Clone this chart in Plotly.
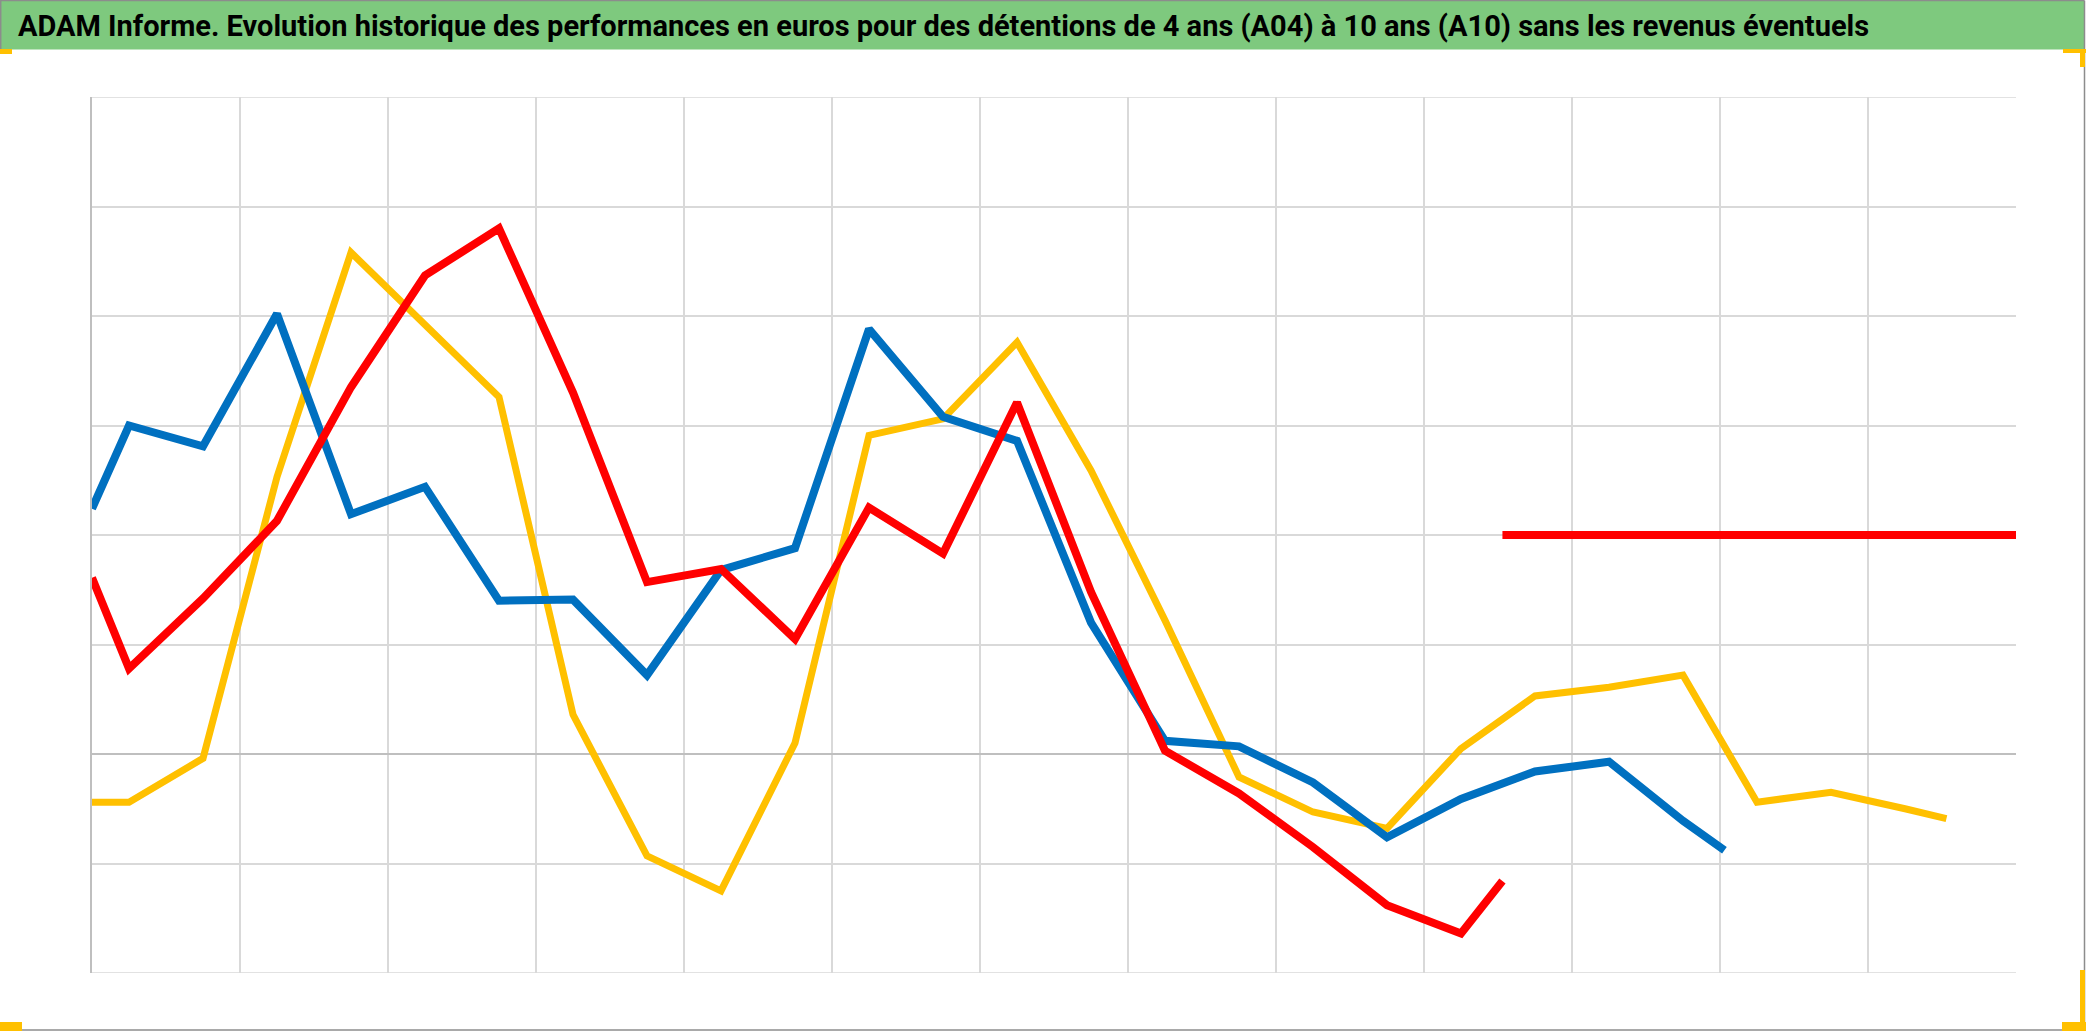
import plotly.graph_objects as go

# ---- data (x in grid units, y in arbitrary % units, 10 per gridline) ----
title_text = "ADAM Informe. Evolution historique des performances en euros pour des détentions de 4 ans (A04) à 10 ans (A10) sans les revenus éventuels"

blue_x = [0, 0.25, 0.75, 1.25, 1.75, 2.25, 2.75, 3.25, 3.75, 4.25, 4.75, 5.25, 5.75,
          6.25, 6.75, 7.25, 7.75, 8.25, 8.75, 9.25, 9.75, 10.25, 10.75, 11.03]
blue_y = [22.4, 30.0, 28.1, 40.2, 21.9, 24.4, 14.0, 14.1, 7.2, 16.8, 18.8, 38.8, 30.8,
          28.6, 12.0, 1.2, 0.7, -2.6, -7.6, -4.1, -1.6, -0.7, -6.1, -8.8]

yellow_x = [0, 0.25, 0.75, 1.25, 1.75, 2.25, 2.75, 3.25, 3.75, 4.25, 4.75, 5.25, 5.75,
            6.25, 6.75, 7.25, 7.75, 8.25, 8.75, 9.25, 9.75, 10.25, 10.75, 11.25, 11.75,
            12.25, 12.53]
yellow_y = [-4.4, -4.4, -0.4, 25.3, 45.8, 39.2, 32.6, 3.6, -9.3, -12.5, 1.0, 29.1, 30.6,
            37.6, 25.9, 12.2, -2.1, -5.3, -6.8, 0.5, 5.3, 6.1, 7.2, -4.4, -3.5,
            -5.0, -5.9]

red_x = [0, 0.25, 0.75, 1.25, 1.75, 2.25, 2.75, 3.25, 3.75, 4.25, 4.75, 5.25, 5.75,
         6.25, 6.75, 7.25, 7.75, 8.25, 8.75, 9.25, 9.53]
red_y = [16.1, 7.8, 14.2, 21.3, 33.5, 43.7, 48.0, 33.0, 15.7, 16.9, 10.5, 22.5, 18.3,
         32.1, 14.8, 0.3, -3.6, -8.5, -13.8, -16.4, -11.6]

# horizontal reference segments (start at each series' end)
yellow_ref_x = [12.53, 13]
yellow_ref_y = [20, 20]
red_ref_x = [9.53, 13]
red_ref_y = [20, 20]

x_grid = list(range(0, 13))
y_grid = list(range(-20, 61, 10))
x_min, x_max = 0, 13
y_min, y_max = -20, 60

BLUE = "#0070C0"
YELLOW = "#FFC000"
RED = "#FF0000"
GRID = "#D9D9D9"

fig = go.Figure()
fig.add_trace(go.Scatter(x=yellow_x, y=yellow_y, mode="lines",
                         line=dict(color=YELLOW, width=7), hoverinfo="skip"))
fig.add_trace(go.Scatter(x=yellow_ref_x, y=yellow_ref_y, mode="lines",
                         line=dict(color=YELLOW, width=7.5), hoverinfo="skip"))
fig.add_trace(go.Scatter(x=blue_x, y=blue_y, mode="lines",
                         line=dict(color=BLUE, width=8), hoverinfo="skip"))
fig.add_trace(go.Scatter(x=red_x, y=red_y, mode="lines",
                         line=dict(color=RED, width=8), hoverinfo="skip"))
fig.add_trace(go.Scatter(x=red_ref_x, y=red_ref_y, mode="lines",
                         line=dict(color=RED, width=8), hoverinfo="skip"))

W, H = 2086, 1031
ML, MR, MT, MB = 92, 70, 97, 58
PW, PH = W - ML - MR, H - MT - MB


def px_x(px):
    return (px - ML) / PW


def px_y(py):
    return (H - MB - py) / PH


shapes = []
# edge gridlines (top and bottom of the plot area)
for yv in (y_min, y_max):
    shapes.append(dict(type="line", xref="x", yref="y", x0=x_min, x1=x_max, y0=yv, y1=yv,
                       line=dict(color=GRID, width=1.5), layer="below"))
# green title bar
shapes.append(dict(type="rect", xref="paper", yref="paper",
                   x0=px_x(0), x1=px_x(2084), y0=px_y(49.5), y1=px_y(0),
                   fillcolor="#7EC97E", line=dict(width=0), layer="below"))
# outer border (top, right, bottom; left only along the title bar)
BORDER = "#8C8C8C"
for (a, b, c, d) in [(0, 2084.5, 0.5, 0.5), (2084.5, 2084.5, 0.5, 1030),
                     (0, 2084.5, 1030, 1030), (0.7, 0.7, 0.5, 49.5)]:
    shapes.append(dict(type="line", xref="paper", yref="paper",
                       x0=px_x(a), x1=px_x(b), y0=px_y(c), y1=px_y(d),
                       line=dict(color=BORDER, width=1.5)))
# selection corner marks (yellow)
for (a, b, c, d) in [(0, 12, 49, 54), (2063, 2086, 49, 53), (2080, 2085, 49, 67),
                     (0, 22, 1022, 1031), (2062, 2086, 1022, 1031), (2080, 2085, 970, 1031)]:
    shapes.append(dict(type="rect", xref="paper", yref="paper",
                       x0=px_x(a), x1=px_x(b), y0=px_y(d), y1=px_y(c),
                       fillcolor="#FFC000", line=dict(width=0)))

fig.update_layout(
    width=W, height=H,
    margin=dict(l=ML, r=MR, t=MT, b=MB, pad=0),
    paper_bgcolor="white", plot_bgcolor="white",
    showlegend=False, hovermode=False,
    shapes=shapes,
    annotations=[dict(text="<b>" + title_text + "</b>", xref="paper", yref="paper",
                      x=px_x(16), y=px_y(26), xanchor="left", yanchor="middle",
                      showarrow=False,
                      font=dict(family="Roboto", size=29, color="black"))],
    xaxis=dict(range=[x_min, x_max], tickvals=x_grid, showticklabels=False, ticks="",
               showgrid=True, gridcolor=GRID, gridwidth=1.5,
               zeroline=False, showline=False),
    yaxis=dict(range=[y_min, y_max], tickvals=y_grid, showticklabels=False, ticks="",
               showgrid=True, gridcolor=GRID, gridwidth=1.5,
               zeroline=True, zerolinecolor="#BFBFBF", zerolinewidth=2,
               showline=True, linecolor="#BFBFBF", linewidth=2),
)

fig.write_html("out.html", config={"displayModeBar": False},
               post_script="document.body.style.margin='0';document.body.style.overflow='hidden';")
